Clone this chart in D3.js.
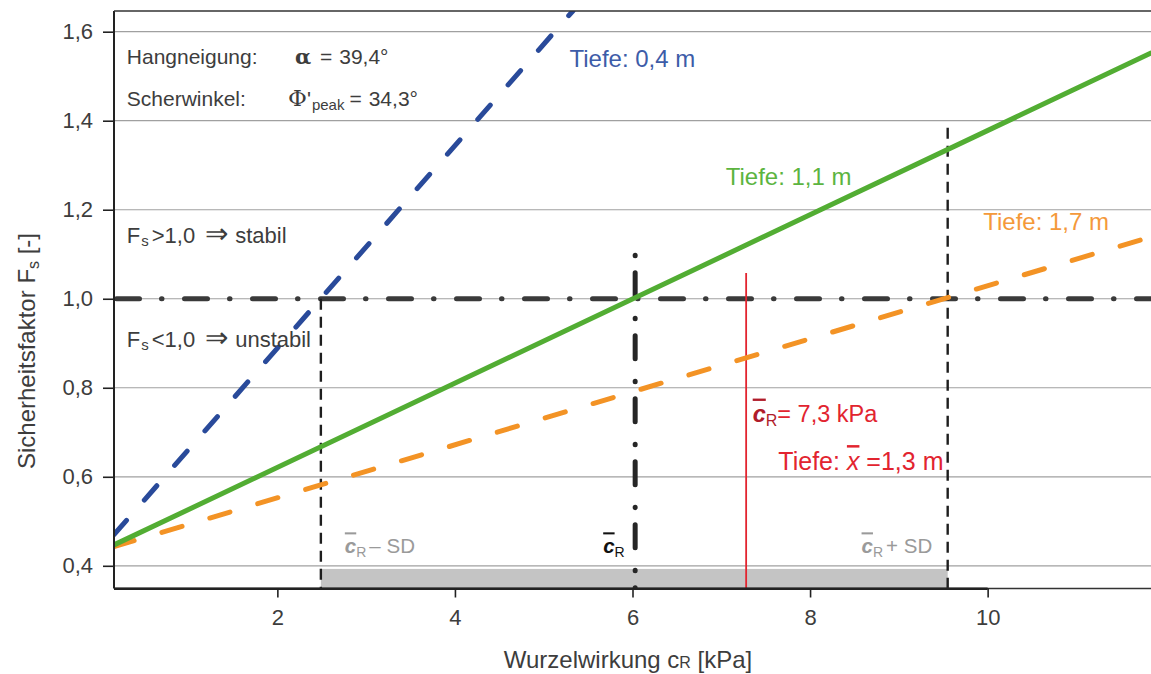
<!DOCTYPE html>
<html>
<head>
<meta charset="utf-8">
<script src="https://cdn.jsdelivr.net/npm/d3@7"></script>
<style>
  html, body { margin: 0; padding: 0; background: #fff; }
  svg text { font-family: "Liberation Sans", Arial, sans-serif; }
</style>
</head>
<body>
<div id="chart"></div>
<script>
// values (x = cR in kPa, y = Fs)
const xTicks = [2, 4, 6, 8, 10];
const yTicks = [0.4, 0.6, 0.8, 1.0, 1.2, 1.4, 1.6];

const depth04 = [[0.16, 0.47], [5.33, 1.647]];
const depth11 = [[0.16, 0.447], [11.84, 1.552]];
const depth17 = [[0.16, 0.443], [11.84, 1.139]];

const cMinusSD = 2.49;
const cMean = 6.03;
const cPlusSD = 9.55;
const cRedMean = 7.28;
const fsLimit = 1.0;
const cMeanTop = 1.098;
const cPlusSDTop = 1.384;
const cRedTop = 1.058;
const bandTop = 0.393;
const axisThickEnd = 10;

const width = 1151, height = 674;
const margin = { left: 114, right: 0, top: 11, bottom: 85.5 };
const textColor = "#3d3d3d";

const x = d3.scaleLinear().domain([0.16, 11.84]).range([margin.left, width - margin.right]);
const y = d3.scaleLinear().domain([0.349, 1.6465]).range([height - margin.bottom, margin.top]);
const fmt = d3.format(".1f");
const comma = v => fmt(v).replace(".", ",");

const svg = d3.select("#chart").append("svg")
    .attr("width", width)
    .attr("height", height);

svg.append("clipPath").attr("id", "plot")
  .append("rect")
    .attr("x", x.range()[0]).attr("y", y.range()[1])
    .attr("width", x.range()[1] - x.range()[0])
    .attr("height", y.range()[0] - y.range()[1]);

// grid lines
svg.append("g")
  .selectAll("line")
  .data(yTicks)
  .enter().append("line")
    .attr("x1", x.range()[0]).attr("x2", x.range()[1])
    .attr("y1", d => y(d)).attr("y2", d => y(d))
    .attr("stroke", "#a0a0a0")
    .attr("stroke-width", 1.2);

// grey band between mean - SD and mean + SD
svg.append("rect")
    .attr("x", x(cMinusSD))
    .attr("y", y(bandTop))
    .attr("width", x(cPlusSD) - x(cMinusSD))
    .attr("height", y(y.domain()[0]) - y(bandTop))
    .attr("fill", "#c4c4c4");

const plot = svg.append("g").attr("clip-path", "url(#plot)");

// Fs = 1,0 limit
plot.append("line")
    .attr("x1", x.range()[0]).attr("x2", x.range()[1])
    .attr("y1", y(fsLimit)).attr("y2", y(fsLimit))
    .attr("stroke", "#3a3a3a")
    .attr("stroke-width", 5)
    .attr("stroke-linecap", "round")
    .attr("stroke-dasharray", "23 22 0.5 22.5")
    .attr("stroke-dashoffset", -2.5);

// thin dashed verticals at mean +/- SD
const thinVerticals = [[cMinusSD, fsLimit], [cPlusSD, cPlusSDTop]];
plot.append("g")
  .selectAll("line")
  .data(thinVerticals)
  .enter().append("line")
    .attr("x1", d => x(d[0])).attr("x2", d => x(d[0]))
    .attr("y1", d => y(d[1])).attr("y2", y(y.domain()[0]))
    .attr("stroke", "#1e1e1e")
    .attr("stroke-width", 2.4)
    .attr("stroke-dasharray", "11 7");

// thick dash-dot at the mean
plot.append("line")
    .attr("x1", x(cMean)).attr("x2", x(cMean))
    .attr("y1", y(cMeanTop)).attr("y2", y(y.domain()[0]) + 3)
    .attr("stroke", "#262626")
    .attr("stroke-width", 5)
    .attr("stroke-linecap", "round")
    .attr("stroke-dasharray", "0.5 17 23 22.5");

// red mean line
plot.append("line")
    .attr("x1", x(cRedMean)).attr("x2", x(cRedMean))
    .attr("y1", y(cRedTop)).attr("y2", y(y.domain()[0]))
    .attr("stroke", "#e2242f")
    .attr("stroke-width", 1.8);

// depth lines
const line = d3.line().x(d => x(d[0])).y(d => y(d[1]));
const depthLines = [
  { data: depth17, color: "#f39325", dash: "21 29" },
  { data: depth11, color: "#52ad33", dash: null },
  { data: depth04, color: "#294a9a", dash: "19 27" }
];
plot.append("g")
  .selectAll("path")
  .data(depthLines)
  .enter().append("path")
    .attr("d", d => line(d.data))
    .attr("fill", "none")
    .attr("stroke", d => d.color)
    .attr("stroke-width", 5)
    .attr("stroke-linecap", "round")
    .attr("stroke-dasharray", d => d.dash);

// axes
const xAxis = svg.append("g")
    .attr("transform", `translate(0,${y.range()[0]})`)
    .call(d3.axisBottom(x).tickValues(xTicks).tickSize(9).tickPadding(12).tickFormat(d3.format("d")));
const yAxis = svg.append("g")
    .attr("transform", `translate(${x.range()[0]},0)`)
    .call(d3.axisLeft(y).tickValues(yTicks).tickSize(11).tickPadding(10).tickFormat(comma));

[xAxis, yAxis].forEach(a => {
  a.select(".domain").attr("stroke", "#222").attr("stroke-width", 2);
  a.selectAll(".tick line").attr("stroke", "#222").attr("stroke-width", 1.6);
  a.selectAll(".tick text")
      .attr("fill", textColor)
      .attr("font-size", 22)
      .attr("font-family", null);
});
// full-width thin x axis line, heavier up to 10
xAxis.select(".domain")
    .attr("d", `M${x.range()[0]},0H${x.range()[1]}`)
    .attr("stroke", "#333")
    .attr("stroke-width", 1.4);
xAxis.insert("line", ".tick")
    .attr("x1", x.range()[0]).attr("x2", x(axisThickEnd))
    .attr("y1", 0.3).attr("y2", 0.3)
    .attr("stroke", "#222")
    .attr("stroke-width", 2.4);
yAxis.select(".domain").attr("d", `M0,${y.range()[0]}V${y.range()[1]}`);

// top frame line
svg.append("line")
    .attr("x1", x.range()[0]).attr("x2", x.range()[1])
    .attr("y1", y.range()[1]).attr("y2", y.range()[1])
    .attr("stroke", "#333")
    .attr("stroke-width", 1.6);

// axis titles
svg.append("text")
    .attr("x", 628).attr("y", 668)
    .attr("text-anchor", "middle")
    .attr("font-size", 24)
    .attr("fill", textColor)
    .call(t => {
      t.append("tspan").text("Wurzelwirkung c");
      t.append("tspan").attr("font-size", 16).text("R");
      t.append("tspan").text(" [kPa]");
    });

svg.append("text")
    .attr("transform", "translate(35,351) rotate(-90)")
    .attr("text-anchor", "middle")
    .attr("font-size", 24)
    .attr("fill", textColor)
    .call(t => {
      t.append("tspan").text("Sicherheitsfaktor F");
      t.append("tspan").attr("font-size", 16).attr("dy", 4).text("s");
      t.append("tspan").attr("dy", -4).text(" [-]");
    });

// annotation text
const ann = svg.append("g").attr("fill", textColor);

ann.append("text")
    .attr("x", x(0.304)).attr("y", y(1.527))
    .attr("font-size", 21)
    .call(t => {
      t.append("tspan").text("Hangneigung:");
      t.append("tspan").attr("x", x(2.2)).style("font-family", "'DejaVu Serif', serif").style("font-weight", 700).text("α");
      t.append("tspan").attr("x", x(2.48)).text("=");
      t.append("tspan").attr("dx", 7).text("39,4°");
    });

ann.append("text")
    .attr("x", x(0.304)).attr("y", y(1.434))
    .attr("font-size", 21)
    .call(t => {
      t.append("tspan").text("Scherwinkel:");
      t.append("tspan").attr("x", x(2.12)).style("font-family", "'DejaVu Serif', serif").attr("font-size", 23).text("Φ");
      t.append("tspan").text("'");
      t.append("tspan").attr("font-size", 15).attr("dy", 4).attr("dx", 1).text("peak");
      t.append("tspan").attr("dy", -4).attr("dx", 5).text("=");
      t.append("tspan").attr("dx", 7).text("34,3°");
    });

const stab = [
  { y: 1.125, rel: ">", word: "stabil" },
  { y: 0.892, rel: "<", word: "unstabil" }
];
ann.selectAll("text.stab")
  .data(stab)
  .enter().append("text")
    .attr("class", "stab")
    .attr("x", x(0.304)).attr("y", d => y(d.y))
    .attr("font-size", 22)
    .each(function(d) {
      const t = d3.select(this);
      t.append("tspan").text("F");
      t.append("tspan").attr("font-size", 15).attr("dy", 3).attr("dx", 1).text("s");
      t.append("tspan").attr("dy", -3).attr("dx", 3).text(`${d.rel}1,0`);
      t.append("tspan").attr("dx", 10).attr("font-size", 28).text("⇒");
      t.append("tspan").attr("dx", 7).text(d.word);
    });

const depthLabels = [
  { text: "Tiefe: 0,4 m", x: 5.29, y: 1.521, color: "#3d5ca8" },
  { text: "Tiefe: 1,1 m", x: 7.05, y: 1.255, color: "#5cb43f" },
  { text: "Tiefe: 1,7 m", x: 9.95, y: 1.154, color: "#f4993a" }
];
ann.selectAll("text.depth")
  .data(depthLabels)
  .enter().append("text")
    .attr("class", "depth")
    .attr("x", d => x(d.x)).attr("y", d => y(d.y))
    .attr("font-size", 24)
    .attr("fill", d => d.color)
    .text(d => d.text);

// c-bar (mean root cohesion) symbol
function cBar(sel, sub) {
  sel.append("tspan")
      .style("font-style", "italic")
      .style("font-weight", 700)
      .style("text-decoration", "overline")
      .text("c");
  sel.append("tspan").attr("font-size", sub).attr("dy", 4).text("R");
}

const red = ann.append("g").attr("fill", "#e2242f");
red.append("text")
    .attr("x", x(7.354)).attr("y", y(0.724))
    .attr("font-size", 23.5)
    .call(t => {
      t.append("tspan").attr("fill", "#b01c2a").call(s => cBar(s, 16));
      t.append("tspan").attr("dy", -4).text("= 7,3 kPa");
    });
red.append("text")
    .attr("x", x(7.643)).attr("y", y(0.615))
    .attr("font-size", 25)
    .call(t => {
      t.append("tspan").text("Tiefe: ");
      t.append("tspan").style("font-style", "italic").style("text-decoration", "overline").text("x");
      t.append("tspan").text(" =1,3 m");
    });

const sdLabels = [
  { x: 2.76, after: "– SD", color: "#9a9a9a" },
  { x: 5.67, after: "", color: "#111" },
  { x: 8.58, after: "+ SD", color: "#9a9a9a" }
];
ann.selectAll("text.sd")
  .data(sdLabels)
  .enter().append("text")
    .attr("class", "sd")
    .attr("x", d => x(d.x)).attr("y", y(0.428))
    .attr("font-size", 20.5)
    .attr("fill", d => d.color)
    .each(function(d) {
      const t = d3.select(this);
      cBar(t, 14);
      t.append("tspan").attr("dy", -4).attr("dx", 3).text(d.after);
    });
</script>
</body>
</html>
